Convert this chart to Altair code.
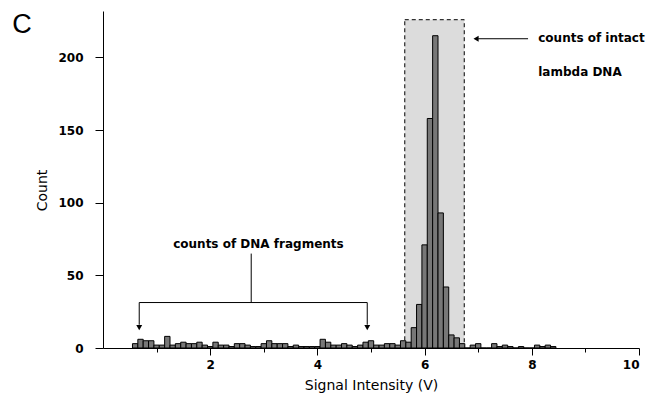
import altair as alt
import pandas as pd

# ---- data ----
bin_centers = [0.6, 0.7, 0.8, 0.9, 1.0, 1.1, 1.2, 1.3, 1.4, 1.5,
               1.6, 1.7, 1.8, 1.9, 2.0, 2.1, 2.2, 2.3, 2.4, 2.5,
               2.6, 2.7, 2.8, 2.9, 3.0, 3.1, 3.2, 3.3, 3.4, 3.5,
               3.6, 3.7, 3.8, 3.9, 4.0, 4.1, 4.2, 4.3, 4.4, 4.5,
               4.6, 4.7, 4.8, 4.9, 5.0, 5.1, 5.2, 5.3, 5.4, 5.5,
               5.6, 5.7, 5.8, 5.9, 6.0, 6.1, 6.2, 6.3, 6.4, 6.5,
               6.6, 6.7, 6.8, 6.9, 7.0, 7.1, 7.2, 7.3, 7.4, 7.5,
               7.6, 7.7, 7.8, 7.9, 8.0, 8.1, 8.2, 8.3, 8.4]
counts = [3, 6, 5, 5, 2, 2, 8, 2, 3, 4,
          3, 3, 4, 2, 1, 4, 2, 2, 1, 3,
          3, 2, 1, 1, 3, 5, 3, 3, 3, 1,
          2, 1, 1, 1, 1, 6, 4, 2, 2, 3,
          2, 1, 2, 4, 5, 2, 2, 3, 3, 2,
          5, 4, 14, 30, 71, 158, 215, 93, 42, 9,
          7, 3, 0, 2, 3, 0, 0, 3, 1, 2,
          1, 0, 1, 0, 0, 2, 1, 2, 1]
bin_half = 0.05

x_ticks = [1, 2, 3, 4, 5, 6, 7, 8, 9, 10]
y_ticks = [0, 25, 50, 75, 100, 125, 150, 175, 200, 225]

# shaded region around intact lambda DNA peak
box_x = [5.63, 6.74]
box_y = [0, 226]

# annotation texts
ann_text = ["counts of DNA fragments", "counts of intact", "lambda DNA"]
ann_x = [2.9, 8.12, 8.12]
ann_y = [71.5, 213.4, 190]
ann_align = ["center", "left", "left"]

# annotation line segments (x, y, x2, y2)
seg_x = [2.765, 0.676, 0.676, 4.93, 7.0]
seg_y = [65, 31.3, 31.3, 31.3, 212.9]
seg_x2 = [2.765, 4.93, 0.676, 4.93, 7.93]
seg_y2 = [31.3, 31.3, 16, 16, 212.9]

# arrow heads
head_x = [0.676, 4.93, 6.96]
head_y = [14.0, 14.0, 212.9]
head_shape = ["triangle-down", "triangle-down", "triangle-left"]

# ---- chart ----
FONT = "DejaVu Sans"
xscale = alt.Scale(domain=[0, 10], nice=False, zero=False)
yscale = alt.Scale(domain=[0, 232], nice=False)

df = pd.DataFrame({"v": bin_centers, "count": counts})

x_axis = alt.Axis(
    values=x_ticks, format="d",
    labelExpr="datum.value % 2 === 0 ? datum.label : ''",
    tickSize={"condition": {"test": "datum.value % 2 === 0", "value": 7}, "value": 4},
    tickColor="black", domainColor="black", labelColor="black",
    labelFont=FONT, labelFontWeight="bold", labelFontSize=12, labelPadding=4,
    grid=False, title="Signal Intensity (V)", titleFont=FONT, titleFontSize=14,
    titleFontWeight="normal", titleColor="black", titleY=37.5, titleBaseline="middle",
)
y_axis = alt.Axis(
    values=y_ticks, format="d",
    labelExpr="datum.value % 50 === 0 ? datum.label : ''",
    tickSize={"condition": {"test": "datum.value % 50 === 0", "value": 8}, "value": 5},
    tickColor="black", domainColor="black", labelColor="black",
    labelFont=FONT, labelFontWeight="bold", labelFontSize=12, labelPadding=12,
    grid=False, title="Count", titleFont=FONT, titleFontSize=14,
    titleFontWeight="normal", titleColor="black", titleX=-61, titleY=179,
    titleBaseline="middle", titleAlign="center",
)

box = alt.Chart(pd.DataFrame({"x0": [box_x[0]], "x1": [box_x[1]],
                              "y0": [box_y[0]], "y1": [box_y[1]]})).mark_rect(
    fill="#dcdcdc", stroke="black", strokeDash=[4, 3], strokeWidth=1
).encode(
    x=alt.X("x0:Q", scale=xscale, axis=x_axis),
    x2="x1:Q",
    y=alt.Y("y0:Q", scale=yscale, axis=y_axis),
    y2="y1:Q",
)

bars = alt.Chart(df).transform_calculate(
    lo=f"datum.v - {bin_half}", hi=f"datum.v + {bin_half}", base="0"
).mark_rect(fill="#777777", stroke="black", strokeWidth=1).encode(
    x=alt.X("lo:Q", scale=xscale),
    x2="hi:Q",
    y=alt.Y("count:Q", scale=yscale),
    y2="base:Q",
)

segs = alt.Chart(pd.DataFrame({"x": seg_x, "y": seg_y, "x2": seg_x2, "y2": seg_y2})).mark_rule(
    color="black", strokeWidth=1
).encode(
    x=alt.X("x:Q", scale=xscale), x2="x2:Q",
    y=alt.Y("y:Q", scale=yscale), y2="y2:Q",
)

heads = alt.Chart(pd.DataFrame({"x": head_x, "y": head_y, "shape": head_shape})).mark_point(
    filled=True, color="black", size=35, opacity=1
).encode(
    x=alt.X("x:Q", scale=xscale),
    y=alt.Y("y:Q", scale=yscale),
    shape=alt.Shape("shape:N", scale=None, legend=None),
)

ann_df = pd.DataFrame({"t": ann_text, "x": ann_x, "y": ann_y, "a": ann_align})
ann_center = alt.Chart(ann_df[ann_df.a == "center"]).mark_text(
    font=FONT, fontWeight="bold", fontSize=12, align="center", baseline="middle", color="black"
).encode(x=alt.X("x:Q", scale=xscale), y=alt.Y("y:Q", scale=yscale), text="t:N")
ann_left = alt.Chart(ann_df[ann_df.a == "left"]).mark_text(
    font=FONT, fontWeight="bold", fontSize=12, align="left", baseline="middle", color="black"
).encode(x=alt.X("x:Q", scale=xscale), y=alt.Y("y:Q", scale=yscale), text="t:N")

panel = alt.Chart(pd.DataFrame({"t": ["C"]})).mark_text(
    font="Liberation Sans", fontSize=27, align="center", baseline="middle", color="black"
).encode(x=alt.value(-81), y=alt.value(14), text="t:N")

chart = alt.layer(box, bars, segs, heads, ann_center, ann_left, panel).properties(
    width=536, height=337,
    autosize=alt.AutoSizeParams(type="none"),
    padding={"left": 103, "top": 11, "right": 19, "bottom": 52},
    background="white",
).configure_view(stroke=None)

chart.save("out.html", embed_options={"renderer": "svg", "actions": False})
